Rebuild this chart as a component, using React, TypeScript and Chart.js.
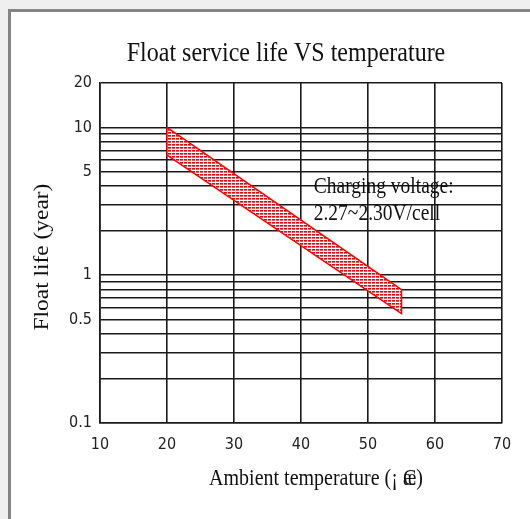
import React, { useEffect, useRef } from "react";
import { Chart, registerables } from "chart.js";

Chart.register(...registerables);

// ---- data ----
const bandTemps = [20, 55];          // °C, ends of the band
const upperLife = [10, 0.8];         // years, upper edge
const lowerLife = [6.5, 0.55];       // years, lower edge
const xTickValues = [10, 20, 30, 40, 50, 60, 70];
const yGridValues = [0.1, 0.2, 0.3, 0.4, 0.5, 0.6, 0.7, 0.8, 0.9, 1, 2, 3, 4, 5, 6, 7, 8, 9, 10, 20];
const yLabelValues = [0.1, 0.5, 1, 5, 10, 20];
const titleText = "Float service life VS temperature";
const yTitleText = "Float life (year)";
const xTitlePrefix = "Ambient temperature (¡ ";
const xTitleOverlap = ["æ", "C"];
const xTitleSuffix = ")";
const noteLines = ["Charging voltage:", "2.27~2.30V/cell"];

const SERIF = "'Liberation Serif', 'Times New Roman', serif";
const NARROW = "'Liberation Sans Narrow', 'DejaVu Sans Condensed', sans-serif";
const STRETCH = 1.17;

const textPlugin = {
  id: "textPlugin",
  afterDraw(chart: any) {
    const ctx = chart.ctx as CanvasRenderingContext2D;
    const xs = chart.scales.x;
    const ys = chart.scales.y;
    ctx.save();
    ctx.fillStyle = "#111";

    // Title
    ctx.save();
    ctx.font = `24px ${SERIF}`;
    ctx.textAlign = "center";
    ctx.textBaseline = "alphabetic";
    ctx.translate(286, 61);
    ctx.scale(1, STRETCH);
    ctx.fillText(titleText, 0, 0);
    ctx.restore();

    // Y title
    ctx.save();
    ctx.font = `20px ${SERIF}`;
    ctx.textAlign = "center";
    ctx.textBaseline = "middle";
    ctx.translate(43, 257);
    ctx.rotate(-Math.PI / 2);
    ctx.scale(STRETCH, 1);
    ctx.fillText(yTitleText, 0, 0);
    ctx.restore();

    // X title
    ctx.save();
    ctx.font = `20px ${SERIF}`;
    ctx.textAlign = "left";
    ctx.textBaseline = "alphabetic";
    const wPre = ctx.measureText(xTitlePrefix).width;
    const wOv = Math.max(...xTitleOverlap.map((s) => ctx.measureText(s).width));
    const wSuf = ctx.measureText(xTitleSuffix).width;
    const total = wPre + wOv + wSuf;
    ctx.translate(316 - total / 2, 485);
    ctx.scale(1, STRETCH);
    ctx.fillText(xTitlePrefix, 0, 0);
    xTitleOverlap.forEach((s) => ctx.fillText(s, wPre, 0));
    ctx.fillText(xTitleSuffix, wPre + wOv, 0);
    ctx.restore();

    // Note
    ctx.save();
    ctx.font = `19.5px ${SERIF}`;
    ctx.textAlign = "left";
    ctx.textBaseline = "alphabetic";
    const nx = xs.getPixelForValue(41.9);
    const ny = ys.getPixelForValue(3.6);
    noteLines.forEach((line, i) => {
      ctx.save();
      ctx.translate(nx, ny + i * 27);
      ctx.scale(1, STRETCH);
      ctx.fillText(line, 0, 0);
      ctx.restore();
    });
    ctx.restore();

    ctx.restore();
  },
};

function makePattern(): CanvasPattern | string {
  const c = document.createElement("canvas");
  c.width = 4;
  c.height = 3;
  const g = c.getContext("2d");
  if (!g) return "rgba(255,0,0,0.4)";
  g.fillStyle = "#ffffff";
  g.fillRect(0, 0, 4, 3);
  g.fillStyle = "#e00a14";
  g.fillRect(0, 0, 3, 1);
  g.fillStyle = "#ee5a60";
  g.fillRect(0, 1, 3, 1);
  const p = g.createPattern(c, "repeat");
  return p || "rgba(255,0,0,0.4)";
}

export default function App() {
  const ref = useRef<HTMLCanvasElement | null>(null);

  useEffect(() => {
    if (!ref.current) return;
    const pattern = makePattern();
    const bandPoints = [
      { x: bandTemps[0], y: upperLife[0] },
      { x: bandTemps[1], y: upperLife[1] },
      { x: bandTemps[1], y: lowerLife[1] },
      { x: bandTemps[0], y: lowerLife[0] },
      { x: bandTemps[0], y: upperLife[0] },
    ];
    const gridColor = "#1a1a1a";
    const chart = new Chart(ref.current, {
      type: "scatter",
      data: {
        datasets: [
          {
            data: bandPoints,
            showLine: true,
            fill: "shape",
            backgroundColor: pattern as any,
            borderColor: "#ff0000",
            borderWidth: 1.5,
            pointRadius: 0,
            tension: 0,
          } as any,
        ],
      },
      options: {
        responsive: false,
        animation: false,
        devicePixelRatio: 1,
        layout: { padding: { left: 0, right: 28, top: 83, bottom: 0 } },
        plugins: {
          legend: { display: false },
          title: { display: false },
          tooltip: { enabled: false },
        },
        scales: {
          x: {
            type: "linear",
            min: 10,
            max: 70,
            afterBuildTicks: (s: any) => {
              s.ticks = xTickValues.map((v) => ({ value: v }));
            },
            afterFit: (s: any) => {
              s.height = 96;
            },
            ticks: {
              autoSkip: false,
              padding: 12,
              color: "#222",
              font: { family: NARROW, size: 16 },
              maxRotation: 0,
            },
            grid: { color: gridColor, lineWidth: 1.6, drawTicks: false },
            border: { color: gridColor, width: 1.6 },
          },
          y: {
            type: "logarithmic",
            min: 0.1,
            max: 20,
            afterBuildTicks: (s: any) => {
              s.ticks = yGridValues.map((v) => ({ value: v }));
            },
            afterFit: (s: any) => {
              s.width = 100;
            },
            ticks: {
              autoSkip: false,
              padding: 8,
              color: "#222",
              font: { family: NARROW, size: 16 },
              callback: (v: any) => (yLabelValues.includes(Number(v)) ? String(v) : ""),
            },
            grid: { color: gridColor, lineWidth: 1.6, drawTicks: false },
            border: { color: gridColor, width: 1.6 },
          },
        },
      },
      plugins: [textPlugin],
    });
    return () => chart.destroy();
  }, []);

  return (
    <div style={{ position: "fixed", left: 0, top: 0, width: 530, height: 519, background: "#efefef", overflow: "hidden" }}>
      <div
        style={{
          position: "absolute",
          left: 8,
          top: 9,
          width: 522,
          height: 510,
          boxSizing: "border-box",
          borderLeft: "3px solid #848484",
          borderTop: "3px solid #848484",
          background: "#ffffff",
        }}
      />
      <canvas ref={ref} width={530} height={519} style={{ position: "absolute", left: 0, top: 0, width: 530, height: 519 }} />
    </div>
  );
}
